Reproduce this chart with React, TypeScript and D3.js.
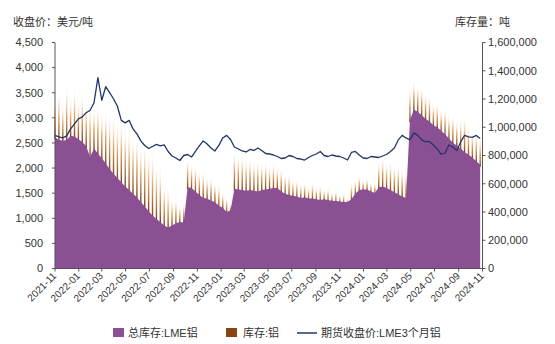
import React from "react";
import * as d3 from "d3";

// ---- data (10-day steps from 2021-11-01) ----
const startDate = new Date(2021, 10, 1);
const stepDays = 10;

// 总库存:LME铝 (thousand tonnes)
const stockK = [
  930, 910, 905, 910, 940, 935, 915, 895, 865, 790,
  850, 815, 780, 745, 705, 670, 640, 610, 580, 555,
  530, 505, 470, 440, 405, 375, 350, 330, 305, 290,
  305, 320, 330, 325, 575, 570, 545, 520, 500, 495,
  480, 470, 445, 430, 400, 410, 565, 560, 555, 550,
  555, 550, 545, 555, 560, 565, 570, 570, 545, 530,
  520, 515, 510, 500, 505, 495, 495, 490, 485, 490,
  485, 480, 478, 475, 470, 470, 490, 530, 555, 560,
  560, 545, 535, 575, 580, 570, 555, 540, 525, 510,
  500, 1050, 1125, 1110, 1085, 1060, 1040, 1015, 1000, 975,
  950, 920, 890, 870, 850, 825, 805, 785, 760, 735,
];

// 库存:铝 (thousand tonnes)
const invK = [
  1200, 1260, 1170, 1290, 1210, 1275, 1190, 1240, 1170, 1175,
  1140, 1160, 1110, 1120, 1080, 1090, 1040, 1060, 1000, 1000,
  940, 950, 880, 890, 830, 830, 740, 720, 600, 570,
  500, 500, 450, 470, 780, 740, 730, 690, 690, 650,
  650, 610, 590, 540, 510, 460, 840, 810, 810, 780,
  790, 760, 770, 750, 760, 730, 750, 720, 710, 670,
  670, 630, 630, 600, 610, 580, 610, 580, 590, 560,
  570, 540, 550, 520, 530, 500, 610, 630, 660, 630,
  640, 610, 610, 760, 790, 750, 760, 730, 740, 710,
  700, 1290, 1330, 1300, 1290, 1240, 1230, 1170, 1170, 1130,
  1130, 1090, 1090, 1050, 1060, 1080, 1010, 970, 970, 930,
];

// 期货收盘价:LME3个月铝 (USD/t)
const price = [
  2650, 2620, 2600, 2640, 2780, 2880, 2980, 3020, 3100, 3150,
  3300, 3800, 3350, 3620, 3500, 3380, 3230, 2950, 2900, 2950,
  2780, 2680, 2540, 2450, 2390, 2430, 2470, 2440, 2460, 2330,
  2240, 2200, 2150, 2250, 2270, 2220, 2330, 2440, 2540, 2480,
  2400, 2340, 2450, 2600, 2650, 2570, 2420, 2380, 2340, 2320,
  2370, 2350, 2400, 2350, 2290, 2280, 2260, 2230, 2190, 2200,
  2250, 2230, 2190, 2180, 2160, 2210, 2250, 2280, 2330, 2250,
  2230, 2260, 2240, 2230, 2200, 2160, 2310, 2330, 2260, 2200,
  2190, 2230, 2220, 2210, 2240, 2270, 2330, 2400, 2560, 2650,
  2600, 2560, 2700, 2650, 2560, 2520, 2530, 2460, 2380, 2270,
  2300, 2460, 2420, 2350, 2520, 2650, 2620, 2610, 2650, 2590,
];

const leftTicks = [0, 500, 1000, 1500, 2000, 2500, 3000, 3500, 4000, 4500];
const rightTicks = [0, 200000, 400000, 600000, 800000, 1000000, 1200000, 1400000, 1600000];
const legendLabels = ["总库存:LME铝", "库存:铝", "期货收盘价:LME3个月铝"];

const W = 555;
const H = 344;
const X0 = 55;
const X1 = 482.5;
const YT = 42.5;
const YB = 268.5;
const FONT = "'Liberation Sans', Arial, 'Noto Sans CJK SC', sans-serif";
const PURPLE = "#8b4f93";
const NAVY = "#1f3767";
const AXIS = "#555";
const TXT = "#333";

export default function App() {
  const dates = stockK.map((_, i) => d3.timeDay.offset(startDate, i * stepDays));
  const x = d3.scaleTime().domain([new Date(2021, 10, 1), new Date(2024, 10, 1)]).range([X0, X1]);
  const yL = d3.scaleLinear().domain([0, 4500]).range([YB, YT]);
  const yR = d3.scaleLinear().domain([0, 1600000]).range([YB, YT]);
  const xTicks = d3.timeMonth.every(2)!.range(new Date(2021, 10, 1), new Date(2024, 10, 2));
  const fmtX = d3.timeFormat("%Y-%m");
  const fmtN = d3.format(",");

  const area = d3
    .area<number>()
    .x((_, i) => x(dates[i]))
    .y0(yR(0))
    .y1((d) => yR(d * 1000));
  const line = d3
    .line<number>()
    .x((_, i) => x(dates[i]))
    .y((d) => yL(d));

  return (
    <div style={{ position: "absolute", left: 0, top: 0 }}>
      <svg width={W} height={H} style={{ display: "block", background: "#fff" }} fontFamily={FONT}>
        <defs>
          <linearGradient id="spk" x1="0" y1="0" x2="0" y2="1">
            <stop offset="0" stopColor="#fff3e6" stopOpacity={0} />
            <stop offset="0.5" stopColor="#dc9a55" stopOpacity={0.85} />
            <stop offset="1" stopColor="#7a3712" />
          </linearGradient>
        </defs>

        {/* spikes: 库存:铝 */}
        {invK.map((v, i) => {
          const top = yR(v * 1000);
          const bot = yR(stockK[i] * 1000);
          return (
            <rect key={"s" + i} x={x(dates[i]) - 0.7} y={top} width={1.4} height={Math.max(0, bot - top + 2)} fill="url(#spk)" />
          );
        })}

        {/* area: 总库存 */}
        <path d={area(stockK) || ""} fill={PURPLE} />

        {/* line: price */}
        <path d={line(price) || ""} fill="none" stroke={NAVY} strokeWidth={1.3} strokeLinejoin="round" />

        {/* left axis */}
        <line x1={X0} x2={X0} y1={YT} y2={YB} stroke={AXIS} strokeWidth={1} />
        {leftTicks.map((t) => (
          <g key={"l" + t}>
            <line x1={X0 - 3} x2={X0} y1={yL(t)} y2={yL(t)} stroke={AXIS} />
            <text x={43} y={yL(t)} dy="0.35em" textAnchor="end" fontSize={11} fill={TXT}>
              {fmtN(t)}
            </text>
          </g>
        ))}

        {/* right axis */}
        <line x1={X1} x2={X1} y1={YT} y2={YB} stroke={AXIS} strokeWidth={1} />
        {rightTicks.map((t) => (
          <g key={"r" + t}>
            <line x1={X1} x2={X1 + 3} y1={yR(t)} y2={yR(t)} stroke={AXIS} />
            <text x={488} y={yR(t)} dy="0.35em" textAnchor="start" fontSize={11} fill={TXT}>
              {fmtN(t)}
            </text>
          </g>
        ))}

        {/* x axis */}
        <line x1={X0} x2={X1} y1={YB} y2={YB} stroke={AXIS} strokeWidth={1} />
        {xTicks.map((d, i) => {
          const px = x(d);
          return (
            <g key={"x" + i}>
              <line x1={px} x2={px} y1={YB} y2={YB + 3} stroke={AXIS} />
              <text
                transform={`translate(${px + 2},${YB + 8}) rotate(-45)`}
                textAnchor="end"
                fontSize={10}
                fill={TXT}
              >
                {fmtX(d)}
              </text>
            </g>
          );
        })}

        {/* axis titles */}
        <text x={13} y={26} fontSize={11} fill={TXT}>收盘价：美元/吨</text>
        <text x={455} y={26} fontSize={11} fill={TXT}>库存量：吨</text>

        {/* legend */}
        <rect x={113} y={328} width={11} height={9} fill={PURPLE} />
        <text x={128} y={333} dy="0.35em" fontSize={11} fill={TXT}>{legendLabels[0]}</text>
        <rect x={226} y={328} width={11} height={9} fill="#8a4315" />
        <text x={243} y={333} dy="0.35em" fontSize={11} fill={TXT}>{legendLabels[1]}</text>
        <line x1={297} x2={317} y1={333} y2={333} stroke={NAVY} strokeWidth={1.5} />
        <text x={321} y={333} dy="0.35em" fontSize={11} fill={TXT}>{legendLabels[2]}</text>
      </svg>
    </div>
  );
}
